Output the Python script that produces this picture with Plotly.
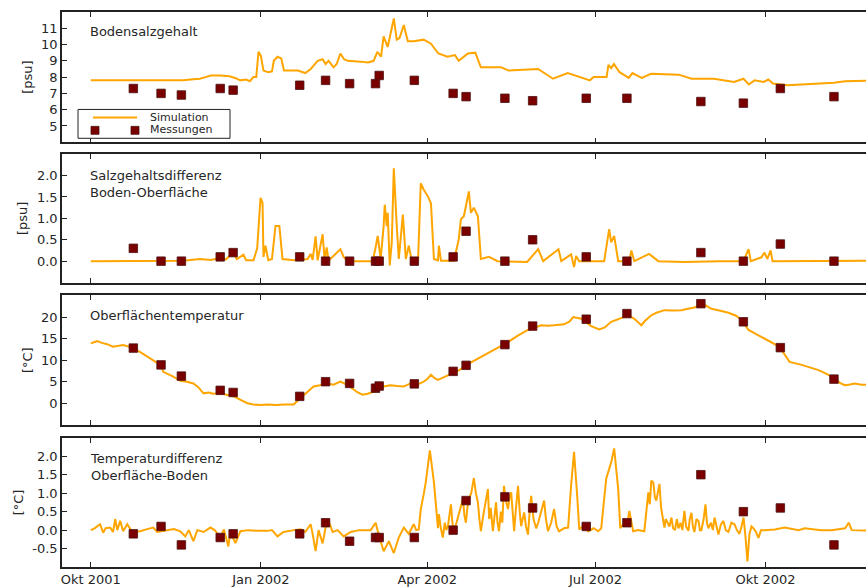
import pandas as pd
import plotly.graph_objects as go

# ---------------- data ----------------
base_date = "2001-10-01"
tick_dates = ["2001-10-01", "2002-01-01", "2002-04-01", "2002-07-01", "2002-10-01"]
tick_labels = ["Okt 2001", "Jan 2002", "Apr 2002", "Jul 2002", "Okt 2002"]

meas_dates = ["2001-10-24", "2001-11-08", "2001-11-19", "2001-12-10", "2001-12-17",
              "2002-01-22", "2002-02-05", "2002-02-18", "2002-03-04", "2002-03-06",
              "2002-03-25", "2002-04-15", "2002-04-22", "2002-05-13", "2002-05-28",
              "2002-06-26", "2002-07-18", "2002-08-27", "2002-09-19", "2002-10-09",
              "2002-11-07"]
salt_meas = [7.3, 7.0, 6.9, 7.3, 7.2, 7.5, 7.8, 7.6, 7.6, 8.1, 7.8, 7.0, 6.8, 6.7, 6.55,
             6.7, 6.7, 6.5, 6.4, 7.3, 6.8]
sdiff_meas = [0.3, 0.0, 0.0, 0.1, 0.2, 0.1, 0.0, 0.0, 0.0, 0.0, 0.0, 0.1, 0.7, 0.0, 0.5,
              0.1, 0.0, 0.2, 0.0, 0.4, 0.0]
temp_meas = [12.8, 8.9, 6.3, 3.0, 2.5, 1.6, 5.0, 4.6, 3.5, 4.0, 4.5, 7.4, 8.8, 13.6, 17.9,
             19.5, 20.8, 23.1, 18.9, 12.9, 5.6]
tdiff_meas = [-0.1, 0.1, -0.4, -0.2, -0.1, -0.1, 0.2, -0.3, -0.2, -0.2, -0.2, 0.0, 0.8, 0.9,
              0.6, 0.1, 0.2, 1.5, 0.5, 0.6, -0.4]

# simulation: days since 2001-10-01 and values
salt_days = [0, 15, 30, 45, 50, 54, 59, 62, 65, 70, 75, 78, 81, 84, 86, 88, 89.5, 90.7, 92,
             93.4, 96, 98, 99, 101, 103, 104.5, 108, 112, 116, 119, 120.5, 122.7, 125.4, 127,
             128.6, 131.3, 133, 135, 137, 139, 146, 150, 153, 155, 157, 158.4, 160.6, 163.9,
             165.5, 167, 169.3, 171.5, 174.7, 180, 184, 188, 193, 197, 199, 204, 208, 211,
             222, 226, 242, 250, 258, 265, 270, 272, 279, 280, 281.5, 283, 286, 291, 293, 298,
             303, 318, 325, 337, 348, 353, 356, 359, 364, 366.5, 369, 377, 391, 402, 408, 420,
             425]
salt_sim = [7.8, 7.8, 7.78, 7.78, 7.8, 7.85, 7.9, 8.0, 8.1, 8.1, 8.05, 7.95, 7.8, 7.85, 7.75,
            8.0, 8.0, 9.55, 9.3, 8.4, 8.3, 8.35, 9.0, 9.25, 9.15, 8.4, 8.4, 8.4, 8.25, 8.5,
            8.7, 9.0, 9.1, 8.8, 9.0, 8.6, 8.8, 9.45, 9.1, 9.0, 8.95, 8.9, 9.0, 9.55, 9.25,
            10.5, 9.85, 11.6, 10.3, 10.4, 11.2, 10.2, 10.2, 10.3, 10.05, 9.45, 9.25, 9.35,
            9.0, 9.45, 9.5, 8.6, 8.6, 8.4, 8.5, 7.9, 8.25, 8.0, 7.8, 8.0, 8.0, 8.75, 8.55,
            8.8, 8.3, 7.95, 8.25, 7.95, 8.2, 8.15, 7.9, 7.9, 7.7, 7.9, 7.55, 7.8, 7.7, 7.85,
            7.6, 7.5, 7.6, 7.65, 7.75, 7.8, 7.8]

sdiff_days = [0, 30, 50, 59, 65, 68.5, 70, 73, 77, 79, 82.6, 84, 88, 90, 91.8, 92.9, 93.4,
              94.5, 96, 98, 99.9, 102, 103.7, 110, 117.3, 118.9, 120, 121.6, 122.7, 125.4,
              126.5, 127.6, 128.6, 135, 136.8, 139, 152.5, 154.1, 155.2, 156.8, 158.4, 159,
              160.1, 160.6, 161.7, 162.8, 163.9, 165.5, 166.6, 168.8, 170.4, 172, 173.6, 177,
              178.5, 180.1, 182.3, 184, 185.6, 187.8, 188.3, 189.4, 196.4, 199, 200.2, 201.8,
              204.5, 205.6, 207.2, 209.4, 211, 215.4, 220, 236, 242, 244.7, 253, 254.5, 259.8,
              261.4, 262.5, 264.2, 277.7, 280.4, 281.5, 283.1, 285.3, 291.3, 292.4, 294, 302,
              307, 321, 340, 353, 355.8, 357, 362.8, 364.4, 366, 367.7, 368.8, 390, 425]
sdiff_sim = [0, 0, 0.01, 0.05, 0.03, 0.06, 0.1, 0.04, 0.2, 0.05, 0.15, 0.02, 0.02, 0.3, 1.48,
             1.36, 0.1, 0.36, 0.02, 0.05, 0.82, 0.82, 0.05, 0.02, 0.05, 0.17, 0.03, 0.58, 0.02,
             0.63, 0.02, 0.32, 0.01, 0.28, 0.1, 0, 0, 0.33, 0.59, 0.05, 0.82, 1.32, 0.82, 1.13,
             -0.1, 0.44, 2.17, 0.82, 0.05, 1.09, 0.05, 0.36, 0.01, 0.01, 1.82, 1.67, 1.52,
             1.35, 0.05, 0.02, 0.36, 0.01, 0.01, 0.5, 0.98, 1.05, 1.63, 1.13, 1.25, 1.05, 0.05,
             0.1, 0, -0.02, 0.28, 0, 0.28, 0, 0.16, -0.14, 0.12, 0, 0, 0.75, 0.44, 0.59, 0, 0,
             0.25, 0, 0.17, 0, -0.02, 0, 0, 0.28, 0, 0.09, 0.2, 0.05, 0.25, 0, 0, 0.01]

temp_days = [0, 3.4, 6, 8.8, 12, 15, 17.5, 20, 23, 27, 30.5, 34, 37.6, 39.2, 42, 44.6, 48.4,
             52, 55.5, 58, 61, 64, 66, 70, 74, 78, 81, 84.7, 88, 92, 95.6, 100, 105, 109.7,
             113.5, 117, 120.5, 124, 128, 131.3, 135, 139, 141, 144.4, 147, 149.8, 153, 155,
             158.4, 162, 166, 169.3, 173, 177, 180, 182, 184, 186, 187.8, 191, 194.8, 199, 204,
             209, 214.8, 220, 225.7, 231, 236.5, 243.6, 247, 250.6, 256, 259, 261, 265.3, 268,
             270.7, 275, 278, 281.5, 286, 290.8, 294, 297.8, 300, 303.2, 306, 310.3, 315,
             319.5, 323, 326.5, 331.4, 335.7, 340, 344.9, 349, 352, 355.8, 360, 364.4, 369,
             372.6, 375, 378, 384.5, 390, 393.7, 398, 402.4, 405, 407.8, 410, 413.2, 417, 425]
temp_sim = [13.9, 14.4, 14.0, 13.7, 13.1, 13.3, 13.5, 13.2, 12.7, 11.8, 10.8, 10.0, 8.9, 7.3,
            6.8, 6.2, 5.2, 5.0, 4.6, 3.8, 2.3, 2.5, 2.2, 2.3, 1.9, 1.5, 0.8, 0.0, -0.3, -0.4,
            -0.3, -0.4, -0.3, -0.3, 1.2, 2.5, 3.9, 4.2, 4.6, 4.3, 5.0, 4.2, 3.5, 2.5, 2.0, 2.2,
            2.7, 3.5, 3.9, 4.2, 4.0, 3.9, 4.6, 4.4, 5.0, 5.6, 6.6, 5.8, 5.4, 6.0, 6.8, 7.6, 9.1,
            10.3, 11.5, 12.8, 14.2, 15.7, 17.0, 18.1, 18.0, 18.1, 18.3, 19.0, 20.0, 19.6, 18.8,
            17.9, 17.1, 17.6, 18.9, 19.6, 20.4, 19.6, 18.1, 19.2, 20.4, 21.0, 21.6, 21.5, 21.6,
            21.9, 22.2, 23.0, 21.9, 21.5, 21.0, 20.3, 19.3, 17.0, 16.0, 15.0, 14.0, 13.1, 11.5,
            9.6, 8.9, 8.2, 7.7, 6.8, 5.8, 4.8, 4.2, 4.3, 4.6, 4.3, 4.2]

tdiff_days = [0, 2, 5, 6.7, 8, 10.5, 12, 13.2, 14.3, 15.9, 17.5, 19.7, 22.4, 26.7, 30, 33.8,
              35.9, 41.4, 45, 48.4, 51.1, 53, 55.5, 57.6, 61, 64.7, 67, 70.1, 72, 74.4, 75.5,
              78.2, 80.9, 85, 90, 95.6, 98, 101, 104.2, 110, 113.5, 116, 118.9, 120, 121.6,
              123.2, 125.4, 127, 128.6, 130.8, 133.5, 136.8, 140.6, 145, 151.4, 154.1, 155.7,
              158.4, 161.2, 163.9, 166.6, 169.3, 172, 174.7, 176, 177.4, 178.5, 180.1, 181.2,
              183.4, 185.6, 187.8,
              188.3, 189.2, 190.4, 191.5, 192.3, 193.2, 194, 194.8, 195.6, 196.4, 197.8, 199.1,
              200.2, 201.3, 202.1, 202.9, 203.7, 204.5, 205.8, 207.2, 208.3, 209.4, 210.2, 211,
              212.3, 213.7, 214.8, 215.5, 216.3, 217.5, 218.3, 219.2, 220, 220.8, 221.8, 222.6,
              223.5, 224.5, 225.7, 226.5, 227.4, 228.2, 229, 230, 231.1, 232, 232.8, 233.6,
              234.4, 235.4, 236.5, 237.4, 238.2, 239.5, 240.9, 242, 243, 244, 245.2, 246.2,
              247.3, 249, 250.6, 252, 253.3, 256, 258.2, 259.8, 261.4, 263.1, 264.2, 266, 269.1,
              272, 274.5, 276.1, 278.8, 281.5, 283.1, 285.3, 286.4, 288.6, 290, 291.3, 292.3,
              293.4, 296, 299.4,
              300.5, 301.6, 302.4, 303.2, 304.3, 305.1, 305.9, 306.8, 307.6, 308.5, 309.3, 310.3,
              311, 312, 313, 314.1, 315, 316, 317, 317.9, 319, 320, 321.1, 322, 323.3, 324,
              324.9, 325.7, 326.5, 327.6, 328.7, 329.5, 330.3, 331.5, 332.5, 333.3, 334.1, 335.5,
              336.5, 337.4, 338.5, 339.5, 340.8, 342.2, 343.5, 344.9, 346.5, 348.2, 349.5, 350.9,
              352, 353.1, 354.2, 355.2, 356.3, 357.4, 358.5, 359.8, 361.2, 362.5, 364.4, 370,
              375.3, 382.9, 386.1, 395, 400.8, 408, 410, 411.6, 418.7, 425]
tdiff_sim = [0, 0.05, 0.16, -0.07, 0.05, 0.07, -0.05, 0.3, 0.0, 0.25, -0.03, 0.16, -0.05,
             -0.03, 0.02, 0.07, -0.05, 0.0, 0.03, -0.03, -0.17, 0.0, -0.3, 0.0, -0.05, 0.07,
             0.0, -0.2, 0.02, -0.44, -0.05, -0.35, -0.03, 0.0, -0.02, -0.02, 0.0, -0.17, -0.05,
             0.0, 0.02, -0.05, 0.16, -0.1, -0.57, 0.0, -0.36, 0.07, 0.25, -0.05, 0.0, -0.17,
             -0.05, 0.0, 0.0, 0.2, -0.12, -0.57, -0.3, -0.62, -0.2, 0.07, -0.1, 0.16, 0.0, 0.02,
             0.57, 0.98, 1.3, 2.16, 1.3, 0.05,
             0.43, 0.1, -0.2, 0.2, 0.0, 0.11, 0.4, 0.7, 0.2, -0.03, 0.2, 0.43, 0.6, 0.84, 0.4,
             0.2, 0.6, 0.84, 1.0, 1.41, 1.0, 0.75, 0.3, -0.03, 0.4, 0.75, 1.11, 0.3, 0.6, -0.03,
             0.3, 0.75, 0.2, -0.03, 0.5, 0.2, 1.2, 0.8, 0.57, 0.9, 1.02, 0.4, -0.03, 0.6, 1.2,
             0.5, 0.11, 0.3, 0.48, 0.1, -0.12, 0.5, 0.93, 0.3, 0.05, 0.2, 0.39, 0.6, 0.8, 0.3,
             -0.03, 0.2, 0.57, 0.1, -0.03, 0.05, 0.07, 1.2, 2.12, 0.93, 0.02, 0.1, -0.03, 0.05,
             -0.03, 0.05, 1.39, 1.84, 2.21, 1.11, 0.05, 0.2, 0.1, 0.52, 0.2, -0.03, 0.0, -0.03,
             0.5, 1.02, 0.7, 1.34, 1.29, 0.9, 0.8, 1.1, 1.25, 0.6, 0.3, 0.07, 0.3, 0.2, 0.1,
             0.34, 0.05, 0.0, 0.3, 0.05, 0.2, 0.0, 0.52, 0.1, -0.02, 0.3, 0.47, 0.1, -0.05, 0.3,
             0.25, 0.0, 0.0, 0.3, 0.7, 0.2, 0.05, 0.2, 0.0, 0.34, 0.1, -0.12, 0.15, 0.25, 0.0,
             -0.05, 0.2, 0.16, 0.0, -0.1, 0.1, 0.34, -0.21, -0.85, -0.1, 0.1, 0.05, -0.05,
             -0.21, 0.0, 0.0, 0.02, 0.07, 0.0, 0.05, 0.0, 0.0, 0.05, 0.2, 0.0, -0.01, 0.0]

panel_titles = ["Bodensalzgehalt", "Salzgehaltsdifferenz<br>Boden-Oberfläche",
                "Oberflächentemperatur", "Temperaturdifferenz<br>Oberfläche-Boden"]
y_titles = ["[psu]", "[psu]", "[°C]", "[°C]"]
y_ranges = [[4, 12], [-0.5, 2.5], [-5, 25], [-1, 2.5]]
y_tickvals = [[5, 6, 7, 8, 9, 10, 11], [0, 0.5, 1, 1.5, 2], [0, 5, 10, 15, 20],
              [-0.5, 0, 0.5, 1, 1.5, 2]]
y_ticktext = [["5", "6", "7", "8", "9", "10", "11"], ["0.0", "0.5", "1.0", "1.5", "2.0"],
              ["0", "5", "10", "15", "20"], ["-0.5", "0.0", "0.5", "1.0", "1.5", "2.0"]]
x_range = ["2001-09-15 10:00", "2002-11-24 08:00"]
legend_labels = ["Simulation", "Messungen"]

for a, b in [(salt_days, salt_sim), (sdiff_days, sdiff_sim), (temp_days, temp_sim),
             (tdiff_days, tdiff_sim)]:
    assert len(a) == len(b), (len(a), len(b))

# ---------------- figure ----------------
W, H = 866, 587
L = 62
panel_px = [(12, 143), (155, 284), (297, 427), (440, 570)]
title_frac = [0.924, 0.91, 0.918, 0.915]


def px_x(px):
    return (px - L) / (W - L)


def px_y(py):
    return 1 - py / H


def to_dates(days):
    return pd.Timestamp(base_date) + pd.to_timedelta(days, unit="D")


sims = [(salt_days, salt_sim), (sdiff_days, sdiff_sim), (temp_days, temp_sim),
        (tdiff_days, tdiff_sim)]
meas = [salt_meas, sdiff_meas, temp_meas, tdiff_meas]

ORANGE = "#FFA500"
MAROON = "#7a0000"
MEDGE = "#4d1010"
TXT = "#262626"
AX = "#222222"
FONT = "DejaVu Sans"

fig = go.Figure()
for i in range(4):
    ax = "" if i == 0 else str(i + 1)
    d, v = sims[i]
    fig.add_trace(go.Scatter(x=to_dates(d), y=v, mode="lines", name=legend_labels[0],
                             line=dict(color=ORANGE, width=2), xaxis="x" + ax, yaxis="y" + ax,
                             showlegend=False))
    fig.add_trace(go.Scatter(x=pd.to_datetime(meas_dates), y=meas[i], mode="markers",
                             name=legend_labels[1],
                             marker=dict(symbol="square", size=8.5, color=MAROON,
                                         line=dict(color=MEDGE, width=0.8)),
                             xaxis="x" + ax, yaxis="y" + ax, showlegend=False,
                             cliponaxis=False))

layout = dict(width=W, height=H, margin=dict(l=L, r=0, t=0, b=0),
              paper_bgcolor="white", plot_bgcolor="white", showlegend=False,
              font=dict(family=FONT, size=13, color=TXT))
annotations = []
for i in range(4):
    ax = "" if i == 0 else str(i + 1)
    top, bot = panel_px[i]
    layout["xaxis" + ax] = dict(
        domain=[0, 1], range=x_range, type="date", anchor="y" + ax,
        tickvals=tick_dates, ticktext=tick_labels, showticklabels=(i == 3),
        ticks="inside", ticklen=5, tickcolor=AX, tickwidth=1,
        showline=True, linecolor=AX, linewidth=1.5, mirror="allticks",
        showgrid=False, zeroline=False, tickfont=dict(size=13, color=TXT))
    layout["yaxis" + ax] = dict(
        domain=[px_y(bot), px_y(top)], range=y_ranges[i], anchor="x" + ax,
        tickvals=y_tickvals[i], ticktext=y_ticktext[i],
        ticks="inside", ticklen=5, tickcolor=AX, tickwidth=1,
        showline=True, linecolor=AX, linewidth=1.5, mirror=False,
        showgrid=False, zeroline=False, tickfont=dict(size=13, color=TXT),
        title=dict(text=y_titles[i], font=dict(size=13, color=TXT), standoff=6))
    annotations.append(dict(
        text=panel_titles[i], xref="paper", yref="y" + ax + " domain",
        x=px_x(88), y=title_frac[i], xanchor="left", yanchor="top",
        showarrow=False, align="left", font=dict(size=13, color=TXT)))

# legend box drawn as decoration (panel 1, lower left)
shapes = [
    dict(type="rect", xref="paper", yref="paper", x0=px_x(78), x1=px_x(230),
         y0=px_y(139), y1=px_y(110), line=dict(color=AX, width=1), fillcolor="white",
         layer="above"),
    dict(type="line", xref="paper", yref="paper", x0=px_x(93), x1=px_x(137),
         y0=px_y(118), y1=px_y(118), line=dict(color=ORANGE, width=2), layer="above"),
]
for cx in (95, 135):
    shapes.append(dict(type="rect", xref="paper", yref="paper", x0=px_x(cx - 4),
                       x1=px_x(cx + 4), y0=px_y(135), y1=px_y(127),
                       line=dict(color=MEDGE, width=0.8), fillcolor=MAROON, layer="above"))
for k, cy in enumerate((118, 130)):
    annotations.append(dict(text=legend_labels[k], xref="paper", yref="paper",
                            x=px_x(148), y=px_y(cy), xanchor="left", yanchor="middle",
                            showarrow=False, font=dict(size=11, color=TXT)))
layout["annotations"] = annotations
layout["shapes"] = shapes
fig.update_layout(**layout)
fig.write_html("out.html")
